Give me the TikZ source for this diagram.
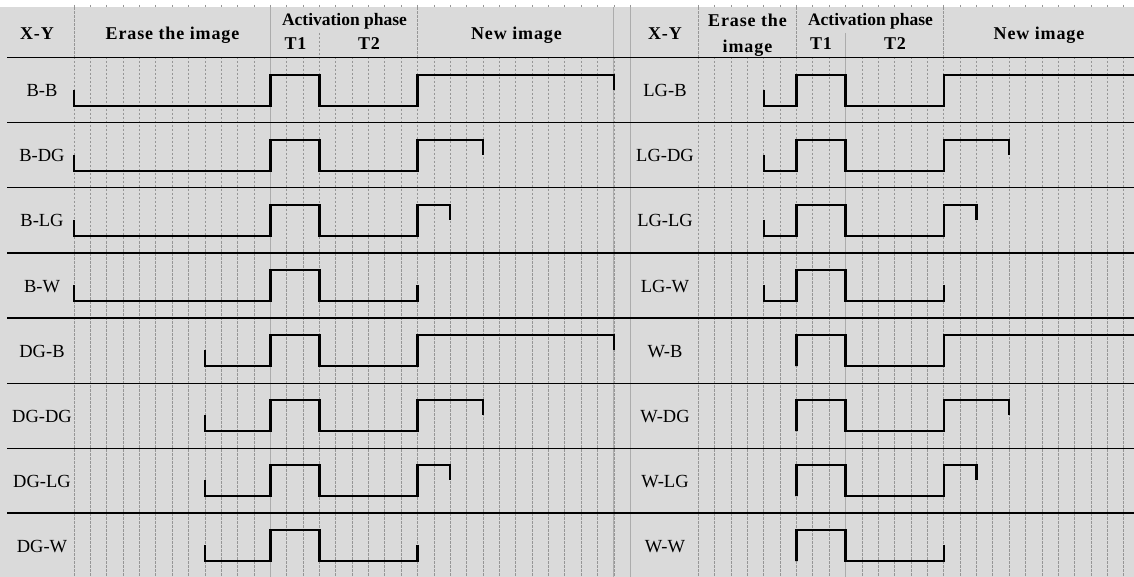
\documentclass[tikz,border=0pt]{standalone}
\usepackage{fontspec}
\setmainfont{Liberation Serif}
\definecolor{bg}{RGB}{218,218,218}
\definecolor{gridc}{RGB}{150,150,150}
\definecolor{divc}{RGB}{172,172,172}
\tikzset{
  gridline/.style={gridc, line width=0.7pt, dash pattern=on 2.5pt off 1.5pt},
  soligrid/.style={divc, line width=0.9pt},
  rowline/.style={black, line width=1pt},
  thickrow/.style={black, line width=1.9pt},
  wave/.style={black, line width=2.4pt, line join=miter},
  lab/.style={font=\fontsize{18.5}{20}\selectfont, inner sep=0pt, anchor=base},
  hd/.style={font=\fontsize{18}{20}\selectfont\bfseries\addfontfeatures{LetterSpace=5}, inner sep=0pt, anchor=base},
  hda/.style={font=\fontsize{17.5}{20}\selectfont\bfseries, inner sep=0pt, anchor=base},
}
% #1 origin x, #2 row, #3 start idx, #4 first pulse idx, #5 end idx, #6 end mode (d = tick down from high, u = tick up from low)
\newcommand\sigwave[6]{%
  \pgfmathsetmacro\yh{58+65*#2+17}%
  \pgfmathsetmacro\yl{58+65*#2+48}%
  \pgfmathsetmacro\ym{58+65*#2+32}%
  \pgfmathsetmacro\xs{#1+16.36*#3}%
  \pgfmathsetmacro\xa{#1+16.36*#4}%
  \pgfmathsetmacro\xb{#1+16.36*(#4+3)}%
  \pgfmathsetmacro\xc{#1+16.36*(#4+9)}%
  \pgfmathsetmacro\xe{#1+16.36*#5}%
  \if#6u%
    \draw[wave] (\xs,\ym) -- (\xs,\yl) -- (\xa,\yl) -- (\xa,\yh) -- (\xb,\yh) -- (\xb,\yl) -- (\xc,\yl) -- (\xc,\ym);%
  \else%
    \draw[wave] (\xs,\ym) -- (\xs,\yl) -- (\xa,\yl) -- (\xa,\yh) -- (\xb,\yh) -- (\xb,\yl) -- (\xc,\yl) -- (\xc,\yh) -- (\xe,\yh) -- (\xe,\ym);%
  \fi}
\begin{document}
\begin{tikzpicture}[x=1pt,y=-1pt]
\clip (0,0) rectangle (1134,577);
\fill[white] (0,0) rectangle (1134,577);
\fill[bg] (0,7.5) rectangle (1134,577);
% grid
\foreach \i in {0,...,34} \draw[gridline] ({74+16.36*\i},5) -- ({74+16.36*\i},577);
\foreach \i in {0,...,26} \draw[gridline] ({698.3+16.36*\i},5) -- ({698.3+16.36*\i},577);
\foreach \i in {12,33,34} \draw[soligrid] ({74+16.36*\i},58) -- ({74+16.36*\i},577);
\draw[soligrid] ({698.3+16.36*9},58) -- ({698.3+16.36*9},577);
% header
\fill[bg] (0,7.5) rectangle (1134,58);
\foreach \i in {0,21} \draw[gridline] ({74+16.36*\i},7.5) -- ({74+16.36*\i},58);
\draw[gridline] ({74+16.36*15},33) -- ({74+16.36*15},58);
\foreach \i in {12,33,34} \draw[soligrid] ({74+16.36*\i},7.5) -- ({74+16.36*\i},58);
\foreach \i in {0,6,15} \draw[gridline] ({698.3+16.36*\i},7.5) -- ({698.3+16.36*\i},58);
\draw[soligrid] ({698.3+16.36*9},33) -- ({698.3+16.36*9},58);
% row lines
\foreach \y in {58,123,188,253,383,448} \draw[rowline] (7,\y) -- (1134,\y);
\foreach \y in {318,513} \draw[thickrow] (7,\y) -- (1134,\y);
% header texts
\node[hd] (hxyL) at (37,40) {X-Y};
\node[hd] (herL) at (172.5,40) {Erase the image};
\node[hda] (hacL) at (344.5,26) {Activation phase};
\node[hd] (ht1L) at (295.5,50) {T1};
\node[hd] (ht2L) at (369,50) {T2};
\node[hd] (hnwL) at (516.5,39.5) {New image};
\node[hd] (hxyR) at (665,40) {X-Y};
\node[hd] (herR1) at (747.5,26.5) {Erase the};
\node[hd] (herR2) at (747.5,53) {image};
\node[hda] (hacR) at (870.5,26) {Activation phase};
\node[hd] (ht1R) at (821,50) {T1};
\node[hd] (ht2R) at (895,50) {T2};
\node[hd] (hnwR) at (1039,39.5) {New image};
% row labels
\foreach \t [count=\r from 0] in {B-B,B-DG,B-LG,B-W,DG-B,DG-DG,DG-LG,DG-W}
  \node[lab] (labL\r) at (42,{58+65*\r+39}) {\t};
\foreach \t [count=\r from 0] in {LG-B,LG-DG,LG-LG,LG-W,W-B,W-DG,W-LG,W-W}
  \node[lab] (labR\r) at (665,{58+65*\r+39}) {\t};
% waveforms left
\sigwave{74}{0}{0}{12}{33}{d}
\sigwave{74}{1}{0}{12}{25}{d}
\sigwave{74}{2}{0}{12}{23}{d}
\sigwave{74}{3}{0}{12}{21}{u}
\sigwave{74}{4}{8}{12}{33}{d}
\sigwave{74}{5}{8}{12}{25}{d}
\sigwave{74}{6}{8}{12}{23}{d}
\sigwave{74}{7}{8}{12}{21}{u}
% waveforms right
\sigwave{698.3}{0}{4}{6}{28}{d}
\sigwave{698.3}{1}{4}{6}{19}{d}
\sigwave{698.3}{2}{4}{6}{17}{d}
\sigwave{698.3}{3}{4}{6}{15}{u}
\sigwave{698.3}{4}{6}{6}{28}{d}
\sigwave{698.3}{5}{6}{6}{19}{d}
\sigwave{698.3}{6}{6}{6}{17}{d}
\sigwave{698.3}{7}{6}{6}{15}{u}
\end{tikzpicture}
\end{document}
